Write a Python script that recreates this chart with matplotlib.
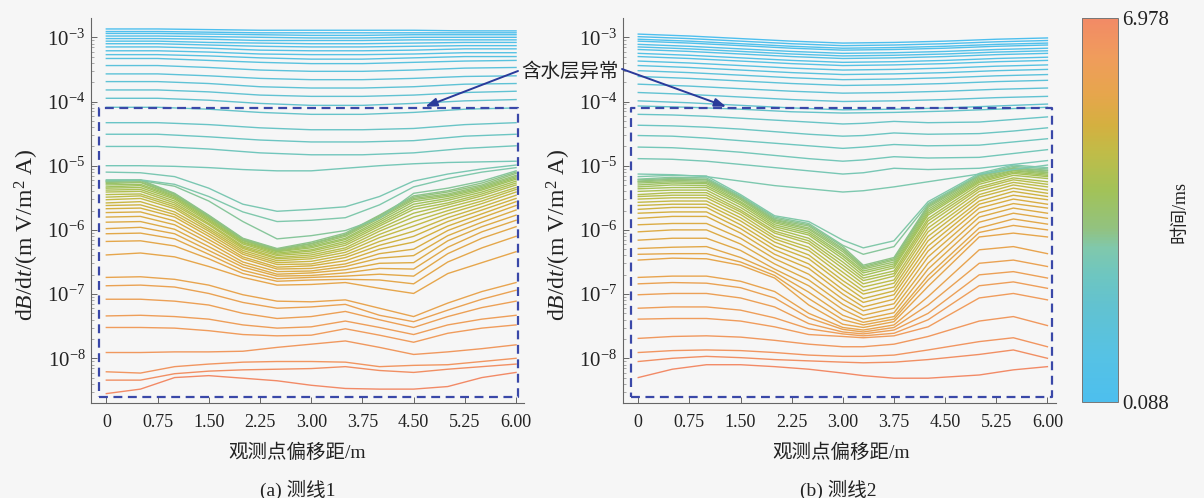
import numpy as np
import matplotlib
matplotlib.use("Agg")
import matplotlib.pyplot as plt
from matplotlib.colors import LinearSegmentedColormap, Normalize
from matplotlib.cm import ScalarMappable
from matplotlib.ticker import LogLocator, LogFormatterMathtext, NullFormatter

plt.rcParams['font.family'] = ['Liberation Serif', 'Noto Sans CJK SC']
plt.rcParams['mathtext.fontset'] = 'custom'
plt.rcParams['mathtext.rm'] = 'Liberation Serif'
plt.rcParams['mathtext.it'] = 'Liberation Serif:italic'

# offsets along the survey lines (m)
x_coarse = [0, 0.75, 1.5, 2.25, 3.0, 3.75, 4.5, 5.25, 6.0]
x_line1 = [0, 0.5, 1.0, 1.5, 2.0, 2.5, 3.0, 3.5, 4.0, 4.5, 5.0, 5.5, 6.0]
x_line2 = [0, 0.5, 1.0, 1.5, 2.0, 2.5, 3.0, 3.3, 3.75, 4.25, 5.0, 5.5, 6.0]
xtick_vals = [0, 0.75, 1.5, 2.25, 3.0, 3.75, 4.5, 5.25, 6.0]
xtick_text = ['0', '0.75', '1.50', '2.25', '3.00', '3.75', '4.50', '5.25', '6.00']

# gate times (ms) for each group of curves
t_early = [0.088, 0.191, 0.295, 0.398, 0.501, 0.605, 0.708, 0.811, 0.915, 1.053,
           1.190, 1.328, 1.466, 1.604, 1.742, 1.879, 2.017]
t_teal1 = [2.155, 2.293, 2.431, 2.568, 2.706, 2.844, 2.982]
t_teal2 = [2.155, 2.275, 2.395, 2.515, 2.635, 2.755, 2.870, 2.982]
t_bundle = [3.120, 3.257, 3.395, 3.533, 3.671, 3.809, 3.946, 4.084, 4.222, 4.360,
            4.498, 4.635, 4.773, 4.911, 5.049, 5.187, 5.256, 5.324, 5.393, 5.462, 5.531]
t_late = [5.600, 5.738, 5.876, 6.013, 6.151, 6.289, 6.427, 6.565, 6.771, 6.978]

# ---- line 1, log10(dB/dt) ----
line1_early = [
    [-2.87, -2.87, -2.88, -2.89, -2.89, -2.89, -2.89, -2.90, -2.90],
    [-2.91, -2.91, -2.92, -2.93, -2.93, -2.93, -2.93, -2.93, -2.93],
    [-2.94, -2.94, -2.95, -2.96, -2.97, -2.97, -2.96, -2.96, -2.96],
    [-2.98, -2.98, -2.99, -3.00, -3.01, -3.01, -3.00, -3.00, -3.00],
    [-3.02, -3.02, -3.03, -3.05, -3.05, -3.05, -3.04, -3.04, -3.04],
    [-3.06, -3.06, -3.08, -3.09, -3.10, -3.10, -3.09, -3.08, -3.08],
    [-3.10, -3.10, -3.12, -3.14, -3.15, -3.15, -3.14, -3.13, -3.13],
    [-3.15, -3.15, -3.17, -3.20, -3.21, -3.21, -3.20, -3.18, -3.18],
    [-3.21, -3.21, -3.23, -3.26, -3.27, -3.27, -3.26, -3.24, -3.24],
    [-3.27, -3.27, -3.29, -3.32, -3.34, -3.34, -3.32, -3.30, -3.30],
    [-3.33, -3.33, -3.36, -3.39, -3.41, -3.41, -3.39, -3.37, -3.36],
    [-3.44, -3.44, -3.47, -3.51, -3.53, -3.53, -3.51, -3.48, -3.47],
    [-3.57, -3.57, -3.60, -3.64, -3.66, -3.66, -3.64, -3.61, -3.60],
    [-3.69, -3.69, -3.72, -3.77, -3.79, -3.79, -3.77, -3.73, -3.72],
    [-3.82, -3.82, -3.85, -3.90, -3.92, -3.92, -3.90, -3.86, -3.84],
    [-3.95, -3.95, -3.98, -4.03, -4.06, -4.06, -4.03, -3.99, -3.97],
    [-4.09, -4.09, -4.12, -4.17, -4.20, -4.20, -4.17, -4.12, -4.10],
]
line1_teal_a = [
    [-4.33, -4.33, -4.36, -4.41, -4.44, -4.44, -4.42, -4.36, -4.33],
    [-4.51, -4.51, -4.55, -4.60, -4.63, -4.63, -4.61, -4.54, -4.51],
    [-4.70, -4.70, -4.74, -4.80, -4.83, -4.83, -4.80, -4.73, -4.69],
]
line1_teal_b = [
    [-5.00, -5.00, -5.01, -5.03, -5.06, -5.08, -5.08, -5.04, -5.00, -4.97, -4.95, -4.94, -4.93],
    [-5.10, -5.11, -5.17, -5.35, -5.60, -5.71, -5.68, -5.64, -5.48, -5.24, -5.13, -5.05, -4.99],
    [-5.22, -5.22, -5.29, -5.48, -5.72, -5.87, -5.85, -5.81, -5.61, -5.33, -5.20, -5.10, -5.03],
    [-5.24, -5.23, -5.32, -5.55, -5.87, -6.14, -6.09, -6.01, -5.82, -5.43, -5.35, -5.24, -5.08],
]
line1_bundle = [
    [-5.23, -5.22, -5.43, -5.77, -6.13, -6.29, -6.19, -6.05, -5.77, -5.47, -5.39, -5.27, -5.10],
    [-5.25, -5.23, -5.44, -5.78, -6.14, -6.30, -6.21, -6.07, -5.78, -5.49, -5.41, -5.30, -5.12],
    [-5.26, -5.25, -5.45, -5.79, -6.15, -6.31, -6.22, -6.08, -5.80, -5.51, -5.44, -5.32, -5.15],
    [-5.28, -5.26, -5.47, -5.80, -6.16, -6.32, -6.24, -6.10, -5.82, -5.53, -5.46, -5.34, -5.17],
    [-5.30, -5.29, -5.48, -5.81, -6.17, -6.33, -6.26, -6.13, -5.85, -5.56, -5.48, -5.36, -5.19],
    [-5.33, -5.31, -5.50, -5.83, -6.19, -6.34, -6.28, -6.15, -5.88, -5.60, -5.51, -5.38, -5.21],
    [-5.35, -5.34, -5.52, -5.85, -6.20, -6.36, -6.31, -6.18, -5.91, -5.64, -5.54, -5.41, -5.24],
    [-5.38, -5.37, -5.55, -5.87, -6.22, -6.38, -6.33, -6.21, -5.94, -5.68, -5.58, -5.44, -5.27],
    [-5.41, -5.40, -5.58, -5.90, -6.25, -6.40, -6.36, -6.24, -5.98, -5.74, -5.61, -5.47, -5.30],
    [-5.45, -5.44, -5.61, -5.92, -6.27, -6.43, -6.39, -6.28, -6.02, -5.80, -5.65, -5.51, -5.34],
    [-5.49, -5.47, -5.64, -5.96, -6.29, -6.45, -6.42, -6.31, -6.07, -5.87, -5.70, -5.55, -5.37],
    [-5.53, -5.51, -5.67, -5.99, -6.32, -6.48, -6.45, -6.35, -6.12, -5.94, -5.75, -5.59, -5.41],
    [-5.58, -5.56, -5.72, -6.02, -6.35, -6.51, -6.49, -6.39, -6.18, -6.02, -5.81, -5.64, -5.46],
    [-5.62, -5.61, -5.76, -6.06, -6.38, -6.54, -6.53, -6.43, -6.24, -6.10, -5.87, -5.69, -5.51],
    [-5.67, -5.66, -5.80, -6.10, -6.42, -6.58, -6.56, -6.48, -6.30, -6.19, -5.94, -5.75, -5.56],
    [-5.73, -5.72, -5.86, -6.15, -6.45, -6.61, -6.60, -6.53, -6.37, -6.30, -6.01, -5.81, -5.62],
    [-5.80, -5.79, -5.92, -6.20, -6.50, -6.65, -6.64, -6.57, -6.44, -6.40, -6.09, -5.88, -5.69],
    [-5.88, -5.87, -5.99, -6.26, -6.54, -6.69, -6.67, -6.62, -6.52, -6.51, -6.17, -5.95, -5.77],
    [-5.98, -5.96, -6.06, -6.32, -6.58, -6.72, -6.71, -6.67, -6.60, -6.61, -6.27, -6.03, -5.85],
    [-6.06, -6.05, -6.14, -6.38, -6.63, -6.76, -6.74, -6.72, -6.69, -6.72, -6.37, -6.13, -5.95],
    [-6.18, -6.17, -6.25, -6.45, -6.68, -6.80, -6.78, -6.77, -6.78, -6.84, -6.50, -6.28, -6.10],
]
line1_late = [
    [-6.39, -6.36, -6.42, -6.57, -6.74, -6.86, -6.85, -6.82, -6.91, -6.99, -6.68, -6.51, -6.34],
    [-6.74, -6.73, -6.77, -6.86, -7.01, -7.11, -7.12, -7.09, -7.22, -7.35, -7.14, -6.96, -6.82],
    [-6.87, -6.86, -6.89, -6.99, -7.13, -7.22, -7.20, -7.16, -7.33, -7.43, -7.25, -7.08, -6.94],
    [-7.08, -7.08, -7.11, -7.17, -7.30, -7.38, -7.35, -7.27, -7.40, -7.52, -7.35, -7.21, -7.11],
    [-7.34, -7.33, -7.35, -7.39, -7.48, -7.53, -7.51, -7.42, -7.52, -7.63, -7.48, -7.39, -7.33],
    [-7.52, -7.52, -7.53, -7.57, -7.63, -7.65, -7.64, -7.54, -7.64, -7.75, -7.61, -7.53, -7.48],
    [-7.91, -7.91, -7.90, -7.90, -7.89, -7.83, -7.78, -7.73, -7.83, -7.94, -7.90, -7.85, -7.79],
    [-8.21, -8.23, -8.13, -8.09, -8.06, -8.05, -8.05, -8.06, -8.13, -8.11, -8.10, -8.05, -8.00],
    [-8.34, -8.34, -8.24, -8.20, -8.18, -8.17, -8.16, -8.13, -8.19, -8.22, -8.17, -8.13, -8.09],
    [-8.55, -8.48, -8.30, -8.27, -8.31, -8.35, -8.42, -8.47, -8.48, -8.48, -8.44, -8.30, -8.22],
]

# ---- line 2, log10(dB/dt) ----
line2_early = [
    [-2.95, -2.98, -3.02, -3.06, -3.09, -3.08, -3.06, -3.03, -3.01],
    [-2.99, -3.02, -3.06, -3.10, -3.13, -3.12, -3.10, -3.07, -3.05],
    [-3.03, -3.06, -3.10, -3.14, -3.17, -3.16, -3.14, -3.11, -3.09],
    [-3.06, -3.09, -3.13, -3.17, -3.20, -3.19, -3.17, -3.14, -3.12],
    [-3.11, -3.14, -3.18, -3.22, -3.25, -3.24, -3.22, -3.19, -3.17],
    [-3.15, -3.18, -3.22, -3.26, -3.29, -3.28, -3.26, -3.23, -3.21],
    [-3.19, -3.22, -3.26, -3.30, -3.33, -3.32, -3.30, -3.27, -3.25],
    [-3.25, -3.28, -3.32, -3.36, -3.39, -3.38, -3.36, -3.33, -3.31],
    [-3.30, -3.33, -3.37, -3.41, -3.44, -3.43, -3.41, -3.38, -3.36],
    [-3.37, -3.40, -3.44, -3.48, -3.51, -3.50, -3.48, -3.45, -3.43],
    [-3.44, -3.47, -3.51, -3.55, -3.58, -3.57, -3.55, -3.52, -3.50],
    [-3.52, -3.55, -3.59, -3.63, -3.66, -3.65, -3.63, -3.60, -3.58],
    [-3.61, -3.64, -3.68, -3.72, -3.75, -3.74, -3.72, -3.69, -3.67],
    [-3.73, -3.76, -3.80, -3.84, -3.87, -3.86, -3.84, -3.81, -3.79],
    [-3.86, -3.89, -3.93, -3.97, -4.00, -3.99, -3.97, -3.94, -3.92],
    [-3.99, -4.02, -4.06, -4.10, -4.13, -4.12, -4.10, -4.07, -4.04],
    [-4.07, -4.09, -4.12, -4.16, -4.18, -4.17, -4.15, -4.12, -4.09],
]
line2_teal = [
    [-4.20, -4.21, -4.23, -4.26, -4.29, -4.32, -4.35, -4.34, -4.31, -4.33, -4.32, -4.28, -4.24],
    [-4.37, -4.38, -4.40, -4.43, -4.47, -4.51, -4.54, -4.53, -4.49, -4.51, -4.50, -4.46, -4.41],
    [-4.53, -4.54, -4.57, -4.61, -4.65, -4.69, -4.73, -4.71, -4.67, -4.69, -4.68, -4.63, -4.58],
    [-4.71, -4.72, -4.75, -4.79, -4.84, -4.89, -4.93, -4.91, -4.86, -4.88, -4.87, -4.81, -4.75],
    [-4.89, -4.90, -4.93, -4.98, -5.03, -5.08, -5.13, -5.11, -5.04, -5.06, -5.04, -4.98, -4.92],
    [-5.13, -5.14, -5.17, -5.24, -5.31, -5.36, -5.41, -5.39, -5.33, -5.25, -5.13, -5.06, -4.99],
    [-5.17, -5.15, -5.16, -5.45, -5.78, -5.87, -6.16, -6.28, -6.17, -5.56, -5.12, -4.99, -5.03],
    [-5.21, -5.18, -5.19, -5.47, -5.80, -5.90, -6.24, -6.38, -6.26, -5.59, -5.14, -5.01, -5.05],
]
line2_bundle = [
    [-5.22, -5.20, -5.21, -5.48, -5.82, -5.92, -6.26, -6.55, -6.43, -5.61, -5.15, -5.03, -5.07],
    [-5.24, -5.21, -5.22, -5.50, -5.84, -5.94, -6.29, -6.57, -6.45, -5.63, -5.16, -5.04, -5.08],
    [-5.25, -5.23, -5.24, -5.51, -5.85, -5.97, -6.31, -6.59, -6.47, -5.65, -5.18, -5.05, -5.10],
    [-5.27, -5.25, -5.26, -5.53, -5.87, -5.99, -6.34, -6.61, -6.50, -5.68, -5.20, -5.07, -5.11],
    [-5.30, -5.27, -5.28, -5.56, -5.89, -6.02, -6.38, -6.64, -6.53, -5.71, -5.22, -5.08, -5.13],
    [-5.33, -5.30, -5.31, -5.58, -5.92, -6.05, -6.41, -6.67, -6.56, -5.74, -5.24, -5.10, -5.15],
    [-5.36, -5.34, -5.34, -5.61, -5.95, -6.08, -6.45, -6.71, -6.59, -5.77, -5.26, -5.12, -5.17],
    [-5.40, -5.38, -5.38, -5.65, -5.98, -6.13, -6.50, -6.75, -6.64, -5.82, -5.29, -5.15, -5.20],
    [-5.45, -5.42, -5.42, -5.69, -6.02, -6.17, -6.55, -6.79, -6.68, -5.86, -5.33, -5.19, -5.25],
    [-5.48, -5.46, -5.46, -5.72, -6.05, -6.21, -6.60, -6.84, -6.72, -5.91, -5.36, -5.22, -5.29],
    [-5.52, -5.50, -5.50, -5.76, -6.10, -6.27, -6.66, -6.89, -6.78, -5.97, -5.40, -5.26, -5.33],
    [-5.57, -5.55, -5.55, -5.81, -6.14, -6.32, -6.72, -6.95, -6.83, -6.03, -5.45, -5.30, -5.38],
    [-5.62, -5.60, -5.60, -5.86, -6.19, -6.39, -6.79, -7.00, -6.89, -6.10, -5.49, -5.35, -5.43],
    [-5.68, -5.65, -5.65, -5.92, -6.25, -6.45, -6.85, -7.07, -6.95, -6.17, -5.55, -5.40, -5.48],
    [-5.74, -5.72, -5.72, -5.98, -6.31, -6.53, -6.93, -7.13, -7.01, -6.25, -5.60, -5.46, -5.53],
    [-5.82, -5.79, -5.79, -6.05, -6.38, -6.60, -7.00, -7.20, -7.08, -6.33, -5.66, -5.52, -5.60],
    [-5.92, -5.90, -5.90, -6.13, -6.45, -6.69, -7.08, -7.26, -7.15, -6.42, -5.73, -5.59, -5.66],
    [-6.03, -6.00, -6.00, -6.22, -6.53, -6.78, -7.16, -7.33, -7.22, -6.52, -5.80, -5.66, -5.74],
    [-6.16, -6.13, -6.13, -6.32, -6.61, -6.87, -7.24, -7.39, -7.29, -6.61, -5.88, -5.74, -5.82],
    [-6.29, -6.27, -6.26, -6.43, -6.66, -6.97, -7.33, -7.44, -7.35, -6.71, -5.97, -5.83, -5.91],
    [-6.38, -6.37, -6.37, -6.50, -6.71, -7.07, -7.40, -7.48, -7.39, -6.78, -6.04, -5.93, -6.00],
]
line2_late = [
    [-6.47, -6.44, -6.45, -6.55, -6.75, -7.17, -7.47, -7.52, -7.43, -6.88, -6.11, -6.05, -6.11],
    [-6.74, -6.72, -6.72, -6.80, -6.96, -7.30, -7.52, -7.56, -7.48, -7.04, -6.31, -6.26, -6.37],
    [-6.84, -6.82, -6.83, -6.90, -7.06, -7.37, -7.55, -7.59, -7.52, -7.17, -6.52, -6.47, -6.57],
    [-7.01, -6.99, -6.99, -7.06, -7.20, -7.46, -7.59, -7.62, -7.56, -7.30, -6.70, -6.65, -6.75],
    [-7.22, -7.20, -7.20, -7.25, -7.37, -7.54, -7.62, -7.65, -7.61, -7.40, -6.87, -6.81, -6.91],
    [-7.39, -7.38, -7.38, -7.42, -7.51, -7.63, -7.66, -7.68, -7.65, -7.51, -7.06, -6.99, -7.09],
    [-7.69, -7.66, -7.65, -7.67, -7.72, -7.78, -7.82, -7.82, -7.78, -7.66, -7.42, -7.35, -7.49],
    [-7.91, -7.88, -7.87, -7.88, -7.91, -7.95, -7.97, -7.97, -7.95, -7.87, -7.74, -7.68, -7.82],
    [-8.05, -8.00, -7.97, -7.99, -8.02, -8.04, -8.06, -8.07, -8.06, -8.02, -7.94, -7.87, -8.00],
    [-8.30, -8.17, -8.10, -8.10, -8.13, -8.17, -8.23, -8.27, -8.31, -8.31, -8.26, -8.18, -8.13],
]

# dashed "aquifer anomaly" frames (x range in m, y range in dB/dt)
box1 = (-0.104, 6.035, 2.52e-9, 7.8e-5)
box2 = (-0.111, 6.072, 2.52e-9, 7.8e-5)

cmap = LinearSegmentedColormap.from_list('gate', [
    (0.00, '#4dbfee'), (0.12, '#56c2e4'), (0.25, '#62c2d0'), (0.33, '#6ec6c0'),
    (0.40, '#80c8ac'), (0.45, '#92c280'), (0.55, '#a2c258'), (0.65, '#c0bc48'),
    (0.72, '#d4b040'), (0.80, '#e6a64c'), (0.90, '#f09c5c'), (1.00, '#f28a66')])
norm = Normalize(0.088, 6.978)

bg = '#f6f6f6'
fig = plt.figure(figsize=(12.04, 4.98), dpi=100, facecolor=bg)
ax1 = fig.add_axes([0.0756, 0.1908, 0.3596, 0.7731])
ax2 = fig.add_axes([0.5173, 0.1908, 0.3598, 0.7731])


def draw_group(ax, xs, curves, times):
    # later curves first so the earlier (greener) ones sit on top
    for vals, t in reversed(list(zip(curves, times))):
        ax.plot(xs, 10 ** np.array(vals), color=cmap(norm(t)), lw=1.0)


draw_group(ax1, x_line1, line1_late, t_late)
draw_group(ax1, x_line1, line1_bundle, t_bundle)
draw_group(ax1, x_line1, line1_teal_b, t_teal1[3:])
draw_group(ax1, x_coarse, line1_teal_a, t_teal1[:3])
draw_group(ax1, x_coarse, line1_early, t_early)

draw_group(ax2, x_line2, line2_late, t_late)
draw_group(ax2, x_line2, line2_bundle, t_bundle)
draw_group(ax2, x_line2, line2_teal, t_teal2)
draw_group(ax2, x_coarse, line2_early, t_early)

for ax, box, xl, xlab_x in [(ax1, box1, (-0.224, 6.116), 0.476), (ax2, box2, (-0.226, 6.126), 0.504)]:
    ax.set_facecolor(bg)
    ax.set_yscale('log')
    ax.set_ylim(10 ** -8.696, 10 ** -2.699)
    ax.set_xlim(*xl)
    x0, x1, y0, y1 = box
    ax.plot([x0, x1, x1, x0, x0], [y0, y0, y1, y1, y0], color='#3a48a8',
            lw=1.6, ls=(0, (4, 2.5)), clip_on=False)
    ax.spines['top'].set_visible(False)
    ax.spines['right'].set_visible(False)
    for s in ('left', 'bottom'):
        ax.spines[s].set_color('#666666')
        ax.spines[s].set_linewidth(0.8)
    ax.set_xticks(xtick_vals)
    ax.set_xticklabels(xtick_text)
    ax.yaxis.set_major_locator(LogLocator(base=10, numticks=12))
    ax.yaxis.set_major_formatter(LogFormatterMathtext())
    ax.yaxis.set_minor_locator(LogLocator(base=10, subs=np.arange(2, 10), numticks=12))
    ax.yaxis.set_minor_formatter(NullFormatter())
    ax.tick_params(axis='both', which='major', direction='in', length=4, width=0.7,
                   color='#666666', labelcolor='#222222')
    ax.tick_params(axis='y', which='minor', direction='in', length=2, width=0.5, color='#888888')
    ax.tick_params(axis='x', labelsize=13, pad=8)
    ax.tick_params(axis='y', labelsize=15, pad=4)
    ax.set_xlabel('观测点偏移距/m', fontsize=14, color='#222222')
    ax.xaxis.set_label_coords(xlab_x, -0.105)
    ax.set_ylabel(r'd$B$/d$t$/(m V/m$^{2}$ A)', fontsize=17, color='#222222')
    ax.yaxis.set_label_coords(-0.115, 0.436)

# colour bar of gate time
cax = fig.add_axes([0.8987, 0.1928, 0.0299, 0.7711])
cb = fig.colorbar(ScalarMappable(norm=norm, cmap=cmap), cax=cax)
cb.set_ticks([0.088, 6.978])
cb.set_ticklabels(['0.088', '6.978'])
cb.ax.tick_params(length=0, labelsize=15, labelcolor='#222222', pad=3)
cb.outline.set_edgecolor('#777777')
cb.outline.set_linewidth(0.7)
fig.text(1180 / 1204, 1 - 212 / 498, '时间/ms', rotation=90, ha='center', va='center',
         fontsize=13, color='#222222')

# annotation of the aquifer anomaly
arrow_kw = dict(arrowstyle='-|>,head_length=0.7,head_width=0.25', color='#2a3a9a',
                lw=1.4, shrinkA=0, shrinkB=0)
fig.text(570 / 1204, 1 - 72 / 498, '含水层异常', ha='center', va='center',
         fontsize=14, color='#222222')
ax1.annotate('', xy=(4.67, 8.3e-5), xytext=(518 / 1204, 1 - 71 / 498),
             textcoords='figure fraction', arrowprops=arrow_kw, annotation_clip=False)
ax2.annotate('', xy=(1.29, 8.3e-5), xytext=(622 / 1204, 1 - 69 / 498),
             textcoords='figure fraction', arrowprops=arrow_kw, annotation_clip=False)

fig.text(298 / 1204, 1 - 490 / 498, '(a) 测线1', ha='center', va='center', fontsize=14,
         color='#222222')
fig.text(838 / 1204, 1 - 490 / 498, '(b) 测线2', ha='center', va='center', fontsize=14,
         color='#222222')

fig.savefig('out.png', dpi=100, facecolor=bg)
